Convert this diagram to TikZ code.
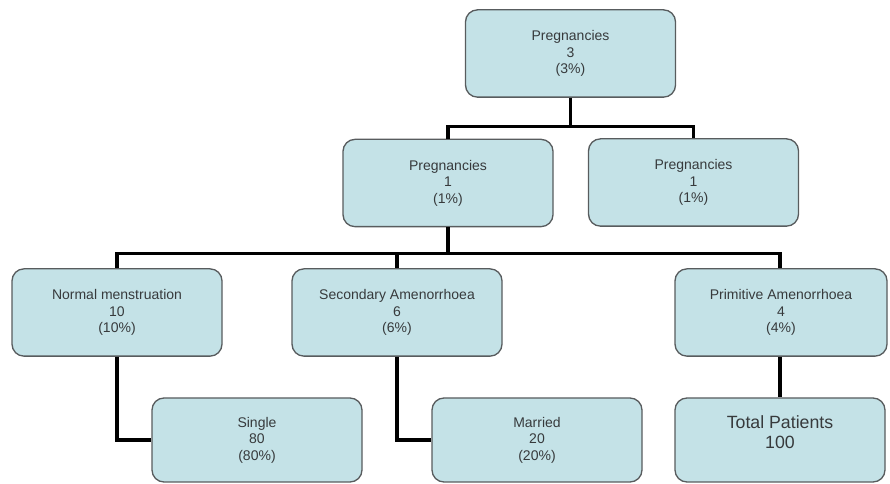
\documentclass[tikz,border=0pt]{standalone}
\usepackage{fontspec}
\setmainfont{Liberation Sans}
\definecolor{boxfill}{RGB}{196,226,231}
\definecolor{boxline}{RGB}{88,92,94}
\definecolor{txt}{RGB}{55,58,60}
\begin{document}
\begin{tikzpicture}[x=0.75pt,y=-0.75pt,
  box/.style={draw=boxline,line width=1pt,fill=boxfill,rounded corners=9pt,
    minimum width=157.5pt,minimum height=65.5pt,inner sep=0pt,align=center,
    text=txt,font=\fontsize{10.5}{12.4}\selectfont},
  conn/.style={draw=black,line width=2.5pt}]
\useasboundingbox (0,0) rectangle (890,484);
\node[box] (top) at (570.5,53.5) {Pregnancies\\3\\(3\%)};
\node[box] (p1) at (448,183) {Pregnancies\\1\\(1\%)};
\node[box] (p2) at (693.5,182.5) {Pregnancies\\1\\(1\%)};
\node[box] (nm) at (117,312.5) {Normal menstruation\\10\\(10\%)};
\node[box] (sa) at (397,312.5) {Secondary Amenorrhoea\\6\\(6\%)};
\node[box, minimum width=159pt] (pa) at (781,312.5) {Primitive Amenorrhoea\\4\\(4\%)};
\node[box, minimum height=63pt] (single) at (257,440) {\raisebox{-3pt}{\parbox{150pt}{\centering Single\\80\\(80\%)}}};
\node[box, minimum height=63pt] (married) at (537,440) {\raisebox{-3pt}{\parbox{150pt}{\centering Married\\20\\(20\%)}}};
\node[box, minimum height=63pt] (tp) at (780,440) {};
\node[text=txt, align=center, font=\fontsize{13.3}{15}\selectfont, anchor=north] (tpt) at (780,411) {Total Patients\\100};
% connectors
\coordinate (pab) at ([xshift=-0.75pt]pa.south);
\draw[conn] (top.south) -- ++(0,29) -| (p1.north);
\draw[conn] (top.south) -- ++(0,29) -| (p2.north);
\draw[conn] (p1.south) -- ++(0,26) -| (nm.north);
\draw[conn] (p1.south) -- ++(0,26) -| (sa.north);
\draw[conn] (p1.south) -- ++(0,26) -| ([xshift=-0.75pt]pa.north);
\draw[conn] (nm.south) |- (single.west);
\draw[conn] (sa.south) |- (married.west);
\draw[conn] (pab) -- (pab |- tp.north);
\end{tikzpicture}
\end{document}
